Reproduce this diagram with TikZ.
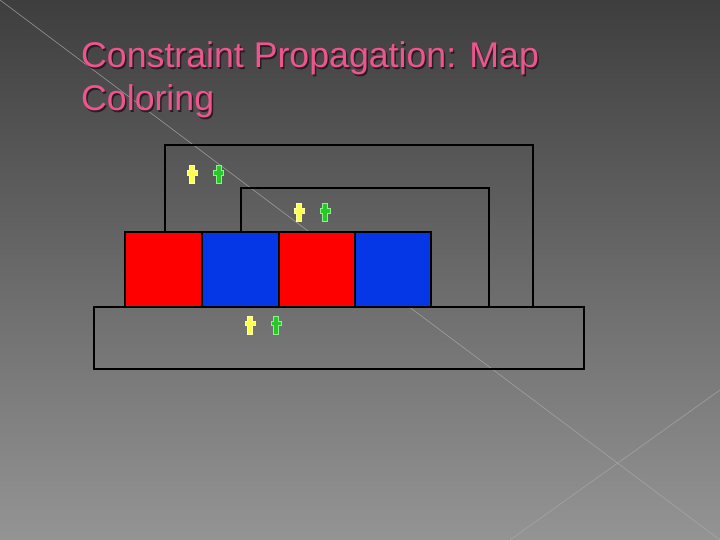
\documentclass[tikz,border=0pt]{standalone}
\usepackage{fontspec}
\setmainfont{Liberation Sans}
\definecolor{bgtop}{RGB}{62,62,62}
\definecolor{bgbot}{RGB}{148,148,148}
\definecolor{titlepink}{RGB}{236,86,142}
\definecolor{shadowc}{RGB}{40,20,30}
\definecolor{mapred}{RGB}{255,0,0}
\definecolor{mapblue}{RGB}{5,55,230}
\definecolor{crossY}{RGB}{255,255,80}
\definecolor{crossYedge}{RGB}{255,255,170}
\definecolor{crossG}{RGB}{40,200,40}
\definecolor{crossGedge}{RGB}{140,240,140}
\definecolor{diagline}{RGB}{170,170,170}
\tikzset{
  titletext/.style={font=\fontsize{35.7}{43.5}\selectfont, inner sep=0pt, anchor=base west},
  frame/.style={draw=black, line width=1.4pt},
  cell/.style={draw=black, line width=1.2pt},
  crossshape/.pic={\path[pic actions] (-2.5,0) -- (2.5,0) -- (2.5,5) -- (5,5) -- (5,9.5) -- (2.5,9.5) -- (2.5,18) -- (-2.5,18) -- (-2.5,9.5) -- (-5,9.5) -- (-5,5) -- (-2.5,5) -- cycle;},
  ycross/.style={fill=crossY, draw=crossYedge, line width=1pt},
  gcross/.style={fill=crossG, draw=crossGedge, line width=1pt},
}
\begin{document}
\begin{tikzpicture}[x=1pt,y=-1pt]
\useasboundingbox (0,0) rectangle (720,540);
\shade[top color=bgtop, bottom color=bgbot] (0,0) rectangle (720,540);
% decorative diagonal lines
\coordinate (d1a) at (0,0);
\coordinate (d1b) at (720,540);
\coordinate (d2a) at (720,390);
\coordinate (d2b) at (510,540);
\draw[diagline, line width=0.7pt, opacity=0.7] (d1a) -- (d1b);
\draw[diagline, line width=0.7pt, opacity=0.7] (d2a) -- (d2b);
% title
\node[titletext, text=shadowc, opacity=0.85] (t1s) at (82.5,69.5) {Constraint Propagation: Map};
\node[titletext, text=shadowc, opacity=0.85] (t2s) at (82.5,112.5) {Coloring};
\node[titletext, text=titlepink] (t1) at (81,68) {Constraint Propagation: Map};
\node[titletext, text=titlepink] (t2) at (81,111) {Coloring};
% map regions
\draw[frame] (165,307) -- (165,145) -- (533,145) -- (533,307);
\draw[frame] (241,307) -- (241,188) -- (489,188) -- (489,307);
\draw[frame] (94,307) rectangle (584,369);
\coordinate (base) at (94,307);
\filldraw[cell, fill=mapred]  (125,232) rectangle (202,307);
\filldraw[cell, fill=mapblue] (202,232) rectangle (279,307);
\filldraw[cell, fill=mapred]  (279,232) rectangle (355,307);
\filldraw[cell, fill=mapblue] (355,232) rectangle (431,307);
% crosses
\pic[ycross] (y1) at (192,166) {crossshape};
\pic[gcross] (g1) at (218.5,166) {crossshape};
\pic[ycross] (y2) at (299,204) {crossshape};
\pic[gcross] (g2) at (325,204) {crossshape};
\pic[ycross] (y3) at (250,316) {crossshape};
\pic[gcross] (g3) at (276,316) {crossshape};
\end{tikzpicture}
\end{document}
